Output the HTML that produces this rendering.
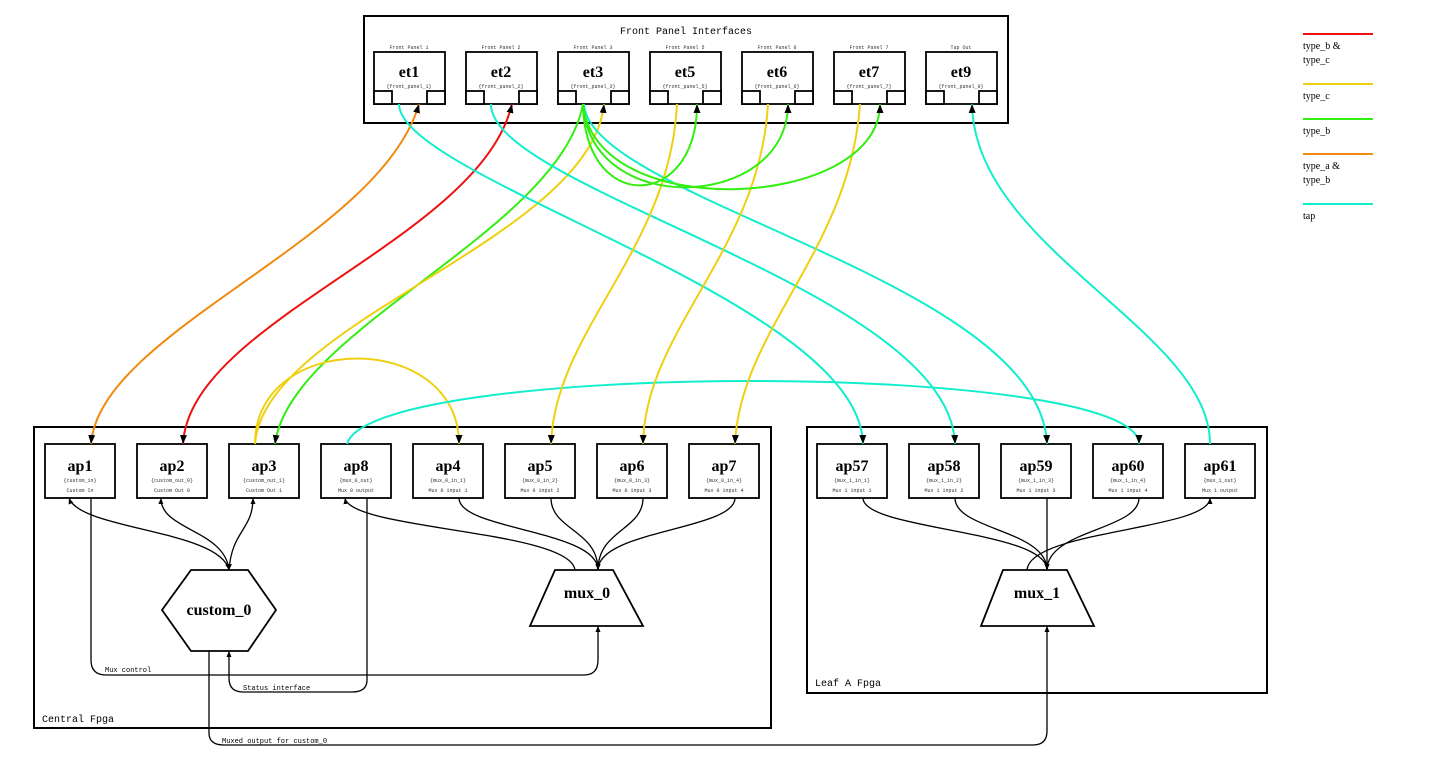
<!DOCTYPE html>
<html><head><meta charset="utf-8"><style>
html,body{margin:0;padding:0;background:#fff;width:1444px;height:764px;overflow:hidden}
svg text{font-family:"Liberation Mono",monospace}
.s{font-family:"Liberation Serif",serif !important}
</style></head><body>
<svg width="1444" height="764" viewBox="0 0 1444 764" xmlns="http://www.w3.org/2000/svg">
<defs>
<marker id="a" markerWidth="10" markerHeight="10" refX="9" refY="4" orient="auto-start-reverse" markerUnits="userSpaceOnUse"><path d="M0,0.5 L9,4 L0,7.5z" fill="#000"/></marker>
<marker id="as" markerWidth="6" markerHeight="6" refX="6" refY="3" orient="auto-start-reverse" markerUnits="userSpaceOnUse"><path d="M0,0.5 L6,3 L0,5.5z" fill="#000"/></marker>
</defs>
<g fill="none" stroke="#000" stroke-width="2">
<rect x="364" y="16" width="644" height="107"/>
<rect x="34" y="427" width="737" height="301"/>
<rect x="807" y="427" width="460" height="266"/>
</g>
<text x="686" y="34" font-size="10" text-anchor="middle">Front Panel Interfaces</text>
<text x="42" y="722" font-size="10">Central Fpga</text>
<text x="815" y="686" font-size="10">Leaf A Fpga</text>

<g stroke="#000" stroke-width="1.8" fill="#fff">
<rect x="374" y="52" width="71" height="52"/><rect x="374" y="91" width="18" height="13"/><rect x="427" y="91" width="18" height="13"/>
<rect x="466" y="52" width="71" height="52"/><rect x="466" y="91" width="18" height="13"/><rect x="519" y="91" width="18" height="13"/>
<rect x="558" y="52" width="71" height="52"/><rect x="558" y="91" width="18" height="13"/><rect x="611" y="91" width="18" height="13"/>
<rect x="650" y="52" width="71" height="52"/><rect x="650" y="91" width="18" height="13"/><rect x="703" y="91" width="18" height="13"/>
<rect x="742" y="52" width="71" height="52"/><rect x="742" y="91" width="18" height="13"/><rect x="795" y="91" width="18" height="13"/>
<rect x="834" y="52" width="71" height="52"/><rect x="834" y="91" width="18" height="13"/><rect x="887" y="91" width="18" height="13"/>
<rect x="926" y="52" width="71" height="52"/><rect x="926" y="91" width="18" height="13"/><rect x="979" y="91" width="18" height="13"/>
</g>
<g text-anchor="middle">
<g font-size="5" fill="#333">
<text x="409" y="49">Front Panel 1</text><text x="501" y="49">Front Panel 2</text><text x="593" y="49">Front Panel 3</text><text x="685" y="49">Front Panel 5</text><text x="777" y="49">Front Panel 6</text><text x="869" y="49">Front Panel 7</text><text x="961" y="49">Tap Out</text>
<text x="409" y="88">{front_panel_1}</text><text x="501" y="88">{front_panel_2}</text><text x="593" y="88">{front_panel_3}</text><text x="685" y="88">{front_panel_5}</text><text x="777" y="88">{front_panel_6}</text><text x="869" y="88">{front_panel_7}</text><text x="961" y="88">{front_panel_9}</text>
</g>
<g font-size="16" font-weight="bold">
<text class="s" x="409" y="77">et1</text><text class="s" x="501" y="77">et2</text><text class="s" x="593" y="77">et3</text><text class="s" x="685" y="77">et5</text><text class="s" x="777" y="77">et6</text><text class="s" x="869" y="77">et7</text><text class="s" x="961" y="77">et9</text>
</g>
</g>

<g stroke="#000" stroke-width="1.8" fill="#fff">
<rect x="45" y="444" width="70" height="54"/><rect x="137" y="444" width="70" height="54"/><rect x="229" y="444" width="70" height="54"/><rect x="321" y="444" width="70" height="54"/>
<rect x="413" y="444" width="70" height="54"/><rect x="505" y="444" width="70" height="54"/><rect x="597" y="444" width="70" height="54"/><rect x="689" y="444" width="70" height="54"/>
<rect x="817" y="444" width="70" height="54"/><rect x="909" y="444" width="70" height="54"/><rect x="1001" y="444" width="70" height="54"/><rect x="1093" y="444" width="70" height="54"/><rect x="1185" y="444" width="70" height="54"/>
<polygon points="191,570 248,570 276,610 248,651 191,651 162,610"/>
<polygon points="555,570 613,570 643,626 530,626"/>
<polygon points="1003,570 1067,570 1094,626 981,626"/>
</g>
<g text-anchor="middle">
<g font-size="16" font-weight="bold">
<text class="s" x="80" y="471">ap1</text><text class="s" x="172" y="471">ap2</text><text class="s" x="264" y="471">ap3</text><text class="s" x="356" y="471">ap8</text><text class="s" x="448" y="471">ap4</text><text class="s" x="540" y="471">ap5</text><text class="s" x="632" y="471">ap6</text><text class="s" x="724" y="471">ap7</text>
<text class="s" x="852" y="471">ap57</text><text class="s" x="944" y="471">ap58</text><text class="s" x="1036" y="471">ap59</text><text class="s" x="1128" y="471">ap60</text><text class="s" x="1220" y="471">ap61</text>
<text class="s" x="219" y="615">custom_0</text><text class="s" x="587" y="598">mux_0</text><text class="s" x="1037" y="598">mux_1</text>
</g>
<g font-size="5" fill="#333">
<text x="80" y="482">{custom_in}</text><text x="172" y="482">{custom_out_0}</text><text x="264" y="482">{custom_out_1}</text><text x="356" y="482">{mux_0_out}</text><text x="448" y="482">{mux_0_in_1}</text><text x="540" y="482">{mux_0_in_2}</text><text x="632" y="482">{mux_0_in_3}</text><text x="724" y="482">{mux_0_in_4}</text>
<text x="852" y="482">{mux_1_in_1}</text><text x="944" y="482">{mux_1_in_2}</text><text x="1036" y="482">{mux_1_in_3}</text><text x="1128" y="482">{mux_1_in_4}</text><text x="1220" y="482">{mux_1_out}</text>
<text x="80" y="492">Custom In</text><text x="172" y="492">Custom Out 0</text><text x="264" y="492">Custom Out 1</text><text x="356" y="492">Mux 0 output</text><text x="448" y="492">Mux 0 input 1</text><text x="540" y="492">Mux 0 input 2</text><text x="632" y="492">Mux 0 input 3</text><text x="724" y="492">Mux 0 input 4</text>
<text x="852" y="492">Mux 1 input 1</text><text x="944" y="492">Mux 1 input 2</text><text x="1036" y="492">Mux 1 input 3</text><text x="1128" y="492">Mux 1 input 4</text><text x="1220" y="492">Mux 1 output</text>
</g>
</g>

<g fill="none" stroke-width="2">
<path d="M419,104 C380,240 100,330 91,444" stroke="#f08a10" marker-start="url(#a)" marker-end="url(#a)"/>
<path d="M512,104 C480,240 190,320 183,444" stroke="#ee1111" marker-start="url(#a)" marker-end="url(#a)"/>
<path d="M583,104 C560,230 290,330 275,444" stroke="#33ee11" marker-end="url(#a)"/>
<path d="M255,444 C265,320 590,240 604,104" stroke="#eed011" marker-end="url(#a)"/>
<path d="M255,444 C255,330 459,330 459,444" stroke="#eed011" marker-end="url(#a)"/>
<path d="M347,444 C370,360 1139,360 1139,444" stroke="#11eecc" marker-end="url(#a)"/>
<path d="M399,104 C400,180 860,300 863,444" stroke="#11eecc" marker-end="url(#a)"/>
<path d="M491,104 C490,190 950,290 955,444" stroke="#11eecc" marker-end="url(#a)"/>
<path d="M584,104 C590,200 1040,280 1047,444" stroke="#11eecc" marker-end="url(#a)"/>
<path d="M1210,444 C1210,330 975,250 972,104" stroke="#11eecc" marker-end="url(#a)"/>
<path d="M677,104 C670,250 555,330 551,444" stroke="#eed011" marker-end="url(#a)"/>
<path d="M768,104 C760,250 645,330 643,444" stroke="#eed011" marker-end="url(#a)"/>
<path d="M860,104 C850,250 740,330 735,444" stroke="#eed011" marker-end="url(#a)"/>
<path d="M583,104 C585,215 697,210 697,104" stroke="#33ee11" marker-end="url(#a)"/>
<path d="M583,104 C590,220 788,210 788,104" stroke="#33ee11" marker-end="url(#a)"/>
<path d="M583,104 C595,225 880,210 880,104" stroke="#33ee11" marker-end="url(#a)"/>
</g>

<g fill="none" stroke="#000" stroke-width="1.3">
<path d="M229,570 C220,530 80,530 69,498" marker-start="url(#as)" marker-end="url(#as)"/>
<path d="M229,570 C225,530 160,530 161,498" marker-start="url(#as)" marker-end="url(#as)"/>
<path d="M229,570 C232,530 253,530 253,498" marker-start="url(#as)" marker-end="url(#as)"/>
<path d="M91,498 V660 Q91,675 106,675 H584 Q598,675 598,660 V626" marker-end="url(#as)"/>
<path d="M367,498 V680 Q367,692 352,692 H243 Q229,692 229,678 V651" marker-end="url(#as)"/>
<path d="M209,651 V733 Q209,745 224,745 H1033 Q1047,745 1047,731 V626" marker-end="url(#as)"/>
<path d="M575,570 C570,530 350,530 345,498" marker-end="url(#as)"/>
<path d="M459,498 C459,530 598,530 598,570" marker-end="url(#as)"/>
<path d="M551,498 C551,530 598,530 598,570" marker-end="url(#as)"/>
<path d="M643,498 C643,530 598,530 598,570" marker-end="url(#as)"/>
<path d="M735,498 C735,530 598,530 598,570" marker-end="url(#as)"/>
<path d="M863,498 C863,530 1047,530 1047,570" marker-end="url(#as)"/>
<path d="M955,498 C955,530 1047,530 1047,570" marker-end="url(#as)"/>
<path d="M1047,498 V570" marker-end="url(#as)"/>
<path d="M1139,498 C1139,530 1047,530 1047,570" marker-end="url(#as)"/>
<path d="M1027,570 C1030,530 1210,530 1210,498" marker-end="url(#as)"/>
</g>
<g font-size="7" fill="#000">
<text x="105" y="672">Mux control</text>
<text x="243" y="690">Status interface</text>
<text x="222" y="743">Muxed output for custom_0</text>
</g>

<g stroke-width="2">
<line x1="1303" y1="34" x2="1373" y2="34" stroke="#ee1111"/>
<line x1="1303" y1="84" x2="1373" y2="84" stroke="#eed011"/>
<line x1="1303" y1="119" x2="1373" y2="119" stroke="#33ee11"/>
<line x1="1303" y1="154" x2="1373" y2="154" stroke="#f08a10"/>
<line x1="1303" y1="204" x2="1373" y2="204" stroke="#11eecc"/>
</g>
<g font-size="10" fill="#000">
<text class="s" x="1303" y="49">type_b &amp;</text><text class="s" x="1303" y="63">type_c</text>
<text class="s" x="1303" y="99">type_c</text>
<text class="s" x="1303" y="134">type_b</text>
<text class="s" x="1303" y="169">type_a &amp;</text><text class="s" x="1303" y="183">type_b</text>
<text class="s" x="1303" y="219">tap</text>
</g>
</svg>
</body></html>
